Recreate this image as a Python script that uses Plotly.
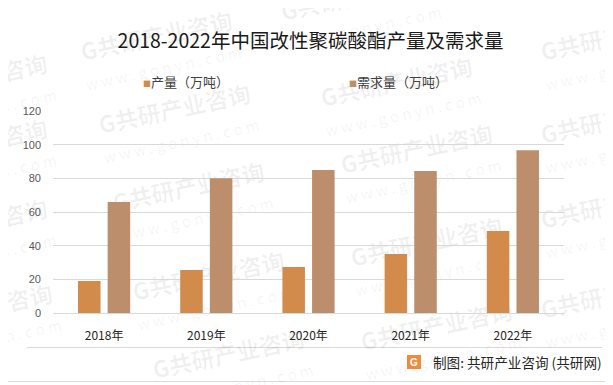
import plotly.graph_objects as go

categories = ["2018年", "2019年", "2020年", "2021年", "2022年"]
production = [19.0, 25.5, 27.3, 35.0, 48.7]
demand = [66.0, 80.0, 85.0, 84.3, 96.7]
series_names = ["产量（万吨）", "需求量（万吨）"]
series_colors = ["#D38B4C", "#BC8E6C"]
y_ticks = [0, 20, 40, 60, 80, 100, 120]

FONT = "Noto Sans CJK SC"

# The page body has an 8px margin, so the figure is laid out in page
# coordinates shifted by OFF.
OFF = 8
W, H = 613 - OFF, 385 - OFF
ml, mr, mt, mb = 53 - OFF, W - (564 - OFF), 111 - OFF, H - (313 - OFF)
pw, ph = W - ml - mr, H - mt - mb


def px(x):
    return (x - OFF - ml) / pw


def py(y):
    return (H - mb - (y - OFF)) / ph


fig = go.Figure()
for vals, name, col in [(production, series_names[0], series_colors[0]),
                        (demand, series_names[1], series_colors[1])]:
    fig.add_trace(go.Bar(x=categories, y=vals, name=name, showlegend=False,
                         marker=dict(color=col, line=dict(width=0))))

# legend entries (small square glyph followed by the name)
for name, col in zip(series_names, series_colors):
    fig.add_trace(go.Scatter(
        x=[None], y=[None], mode="markers",
        marker=dict(size=0.1, color="rgba(0,0,0,0)", line=dict(width=0)),
        name=f"<span style='color:{col};font-size:8px'>■</span>{name}",
        showlegend=True, hoverinfo="skip"))

shapes = [
    dict(type="rect", xref="paper", yref="paper",
         x0=px(3.5), x1=px(609.5), y0=py(381.5), y1=py(3.5),
         line=dict(color="#D9D9D9", width=1), fillcolor="rgba(0,0,0,0)", layer="below"),
    dict(type="line", xref="paper", yref="paper",
         x0=px(27), x1=px(602), y0=py(347.5), y1=py(347.5),
         line=dict(color="#D9D9D9", width=1), layer="below"),
    dict(type="rect", xref="paper", yref="paper",
         x0=px(407), x1=px(421), y0=py(369), y1=py(355),
         line=dict(width=0), fillcolor="#F08A3C"),
]

# faint watermark stamps behind the bars (page coordinates of their centres)
wm_centres = [(360, 12), (160, 52), (620, 52), (400, 98), (-25, 95),
              (178, 125), (620, 135), (-25, 160), (192, 203), (420, 165),
              (620, 220), (-25, 240), (430, 258), (212, 292), (-20, 325),
              (440, 342), (232, 370), (620, 310)]
for cx, cy in wm_centres:
    shapes.append(dict(
        type="rect", xref="paper", yref="paper", layer="below",
        x0=px(cx - 2), x1=px(cx + 2), y0=py(cy + 2), y1=py(cy - 2),
        line=dict(width=0), fillcolor="rgba(0,0,0,0)",
        label=dict(text="<b>G共研产业咨询</b><br><span style='font-size:15px'>w w w . g o n y n . c o m</span>",
                   textposition="middle center", textangle=-12,
                   font=dict(family=FONT, size=23, color="rgba(0,0,0,0.06)"))))

annotations = [
    dict(text="<b>G</b>", xref="paper", yref="paper", x=px(414), y=py(362),
         xanchor="center", yanchor="middle", showarrow=False,
         font=dict(family="Liberation Sans", size=10, color="white")),
    dict(text="制图: 共研产业咨询 (共研网)", xref="paper", yref="paper",
         x=px(431), y=py(362), xanchor="left", yanchor="middle", showarrow=False,
         font=dict(family=FONT, size=13.6, color="#262626")),
]

fig.update_layout(
    width=W, height=H,
    margin=dict(l=ml, r=mr, t=mt, b=mb, autoexpand=False),
    paper_bgcolor="white", plot_bgcolor="rgba(0,0,0,0)",
    font=dict(family=FONT, color="#404040"),
    barmode="group", bargap=0.42, bargroupgap=0.24,
    title=dict(text="2018-2022年中国改性聚碳酸酯产量及需求量",
               x=0.5, xanchor="center", y=1 - (41 - OFF) / H, yanchor="middle",
               font=dict(family=FONT, size=19.5, color="#1a1a1a")),
    showlegend=True,
    legend=dict(orientation="h", x=px(103), xanchor="left", y=py(82), yanchor="middle",
                font=dict(family=FONT, size=13, color="#404040"),
                entrywidth=161, entrywidthmode="pixels", itemwidth=30,
                bgcolor="rgba(0,0,0,0)"),
    xaxis=dict(showgrid=False, showline=False, ticks="", zeroline=False,
               ticklabelstandoff=14,
               tickfont=dict(family=FONT, size=12, color="#262626")),
    yaxis=dict(range=[0, 120], tickvals=y_ticks, showgrid=True, gridcolor="#D9D9D9",
               gridwidth=1, zeroline=True, zerolinecolor="#D9D9D9", zerolinewidth=1,
               showline=False, ticks="", ticklabelstandoff=11,
               tickfont=dict(family="Liberation Sans", size=11, color="#595959")),
    shapes=shapes,
    annotations=annotations,
)

fig.write_html("out.html")
